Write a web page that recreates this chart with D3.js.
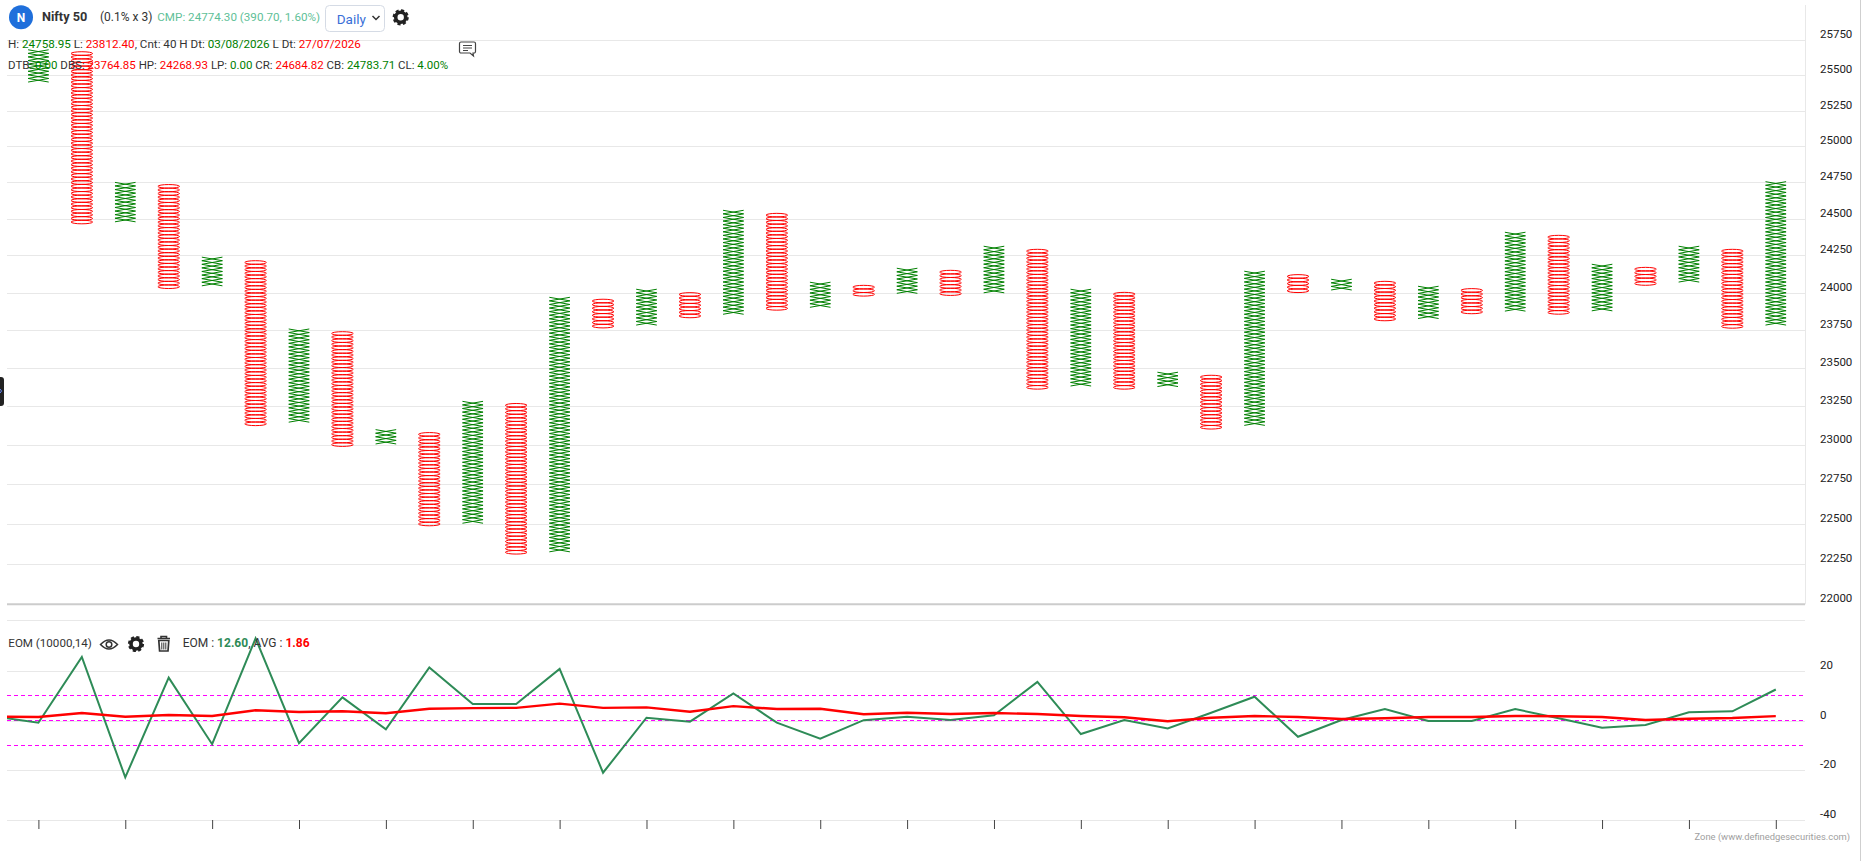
<!DOCTYPE html>
<html>
<head>
    <meta charset="utf-8">
    <title>Nifty 50 Point and Figure</title>
    <script src="https://d3js.org/d3.v7.min.js"></script>
    <style>
    html, body { margin: 0; padding: 0; background: #fff; overflow: hidden; }
    text { font-family: Roboto, "Open Sans", sans-serif; }
    </style>
</head>
<body>
<script>
// point and figure columns, one entry per column
var colTypes = ["X","O","X","O","X","O","X","O","X","O","X","O","X","O","X","O","X","O","X","O","X",
                "O","X","O","X","O","X","O","X","O","X","O","X","O","X","O","X","O","X","O","X"];
var colHigh = [25682,25668,24749,24734,24238,24214,23757,23739,23099,23080,23282,23268,23968,23955,24022,23999,24557,24536,24069,24048,24163,
               24149,24312,24291,24022,24001,23472,23452,24143,24120,24089,24075,24042,24026,24407,24386,24190,24169,24312,24291,24754];
var colLow = [25449,24460,24473,24019,24042,23124,23138,22985,23003,22483,22501,22310,22320,23763,23773,23834,23846,23876,23893,23972,23993,
              23970,23993,23356,23376,23356,23370,23097,23118,23999,24013,23806,23826,23849,23873,23849,23873,24046,24060,23760,23773];

// EOM panel, first value sits one column left of the plot and gets clipped
var eomValues = [1.7,-0.8,25.8,-22.9,17.4,-9.5,33.3,-9.1,9.4,-3.5,21.5,6.7,6.7,20.9,-21,1.2,-0.4,11,-0.8,-7.3,0.2,
                 1.6,0.3,2.2,15.7,-5.4,0.3,-3.1,3.2,9.7,-6.5,0.3,4.7,-0.1,-0.1,4.7,1,-2.8,-1.7,3.4,3.8,12.6];
var avgValues = [1.6,1.5,3.1,1.6,2.3,1.9,4.2,3.5,3.8,3,4.8,5.1,5.2,6.9,5.2,5.4,3.6,5.9,4.7,4.8,2.6,
                 3.2,2.7,3.1,2.7,1.9,1.4,-0.2,1.2,1.9,1.5,0.7,1,1.5,1.5,1.9,1.8,1.5,0.3,0.8,1.1,1.86];
var eomLevels = [10,0,-10];

var priceTicks = d3.range(22000, 25751, 250);
var eomTicks = [20,0,-20,-40];
var xTicks = d3.range(0, 41, 2);

var boxRatio = 0.999;

var width = 1861, height = 861,
    left = 7, right = 1805;

var svg = d3.select("body").append("svg")
    .attr("width", width)
    .attr("height", height);

var x = d3.scaleLinear().domain([0, 40]).range([38.4, 1775.8]);
var y = d3.scaleLog().domain([22000, 25750]).range([604.3, 40.3]);
var yEom = d3.scaleLinear().domain([-40, 40]).range([819.7, 621.7]);

svg.append("defs").append("clipPath").attr("id", "plot")
    .append("rect").attr("x", left).attr("y", 610).attr("width", right - left).attr("height", 215);

// grid and right hand labels
var priceAxis = svg.append("g")
    .attr("transform", "translate(" + right + ",0)")
    .call(d3.axisLeft(y).tickValues(priceTicks).tickSize(right - left).tickFormat(""));
priceAxis.select(".domain").remove();
priceAxis.selectAll("line").attr("stroke", "#e8e8e8").attr("shape-rendering", "crispEdges");

var eomAxis = svg.append("g")
    .attr("transform", "translate(" + right + ",0)")
    .call(d3.axisLeft(yEom).tickValues(eomTicks).tickSize(right - left).tickFormat(""));
eomAxis.select(".domain").remove();
eomAxis.selectAll("line").attr("stroke", "#e8e8e8").attr("shape-rendering", "crispEdges");

svg.append("line").attr("x1", left).attr("x2", right).attr("y1", 620.5).attr("y2", 620.5)
    .attr("stroke", "#e8e8e8");
svg.append("line").attr("x1", left).attr("x2", right).attr("y1", y(22000)).attr("y2", y(22000))
    .attr("stroke", "#ccc").attr("stroke-width", 2);
svg.append("line").attr("x1", right + 0.5).attr("x2", right + 0.5).attr("y1", 5).attr("y2", y(22000))
    .attr("stroke", "#e8e8e8");
svg.append("line").attr("x1", 1860.5).attr("x2", 1860.5).attr("y1", 0).attr("y2", height)
    .attr("stroke", "#cfcfcf");

svg.append("g").selectAll("text").data(priceTicks).enter().append("text")
    .attr("x", 1820).attr("y", function(d) { return y(d) - 2; })
    .attr("font-size", 11.5).attr("fill", "#222")
    .text(function(d) { return d; });
svg.append("g").selectAll("text").data(eomTicks).enter().append("text")
    .attr("x", 1820).attr("y", function(d) { return yEom(d) - 2; })
    .attr("font-size", 11.5).attr("fill", "#222")
    .text(function(d) { return d; });

// x ticks, no labels on this chart
var xAxis = svg.append("g")
    .attr("transform", "translate(0,820)")
    .call(d3.axisBottom(x).tickValues(xTicks).tickSize(9).tickFormat(""));
xAxis.select(".domain").remove();
xAxis.selectAll("line").attr("stroke", "#444");

// columns
var columns = svg.append("g").selectAll("g")
    .data(colTypes.map(function(t, i) {
        var n = Math.round(Math.log(colLow[i] / colHigh[i]) / Math.log(boxRatio));
        return {type: t, i: i, boxes: d3.range(n).map(function(k) {
            return [colHigh[i] * Math.pow(boxRatio, k), colHigh[i] * Math.pow(boxRatio, k + 1)];
        })};
    }))
    .enter().append("g");

columns.filter(function(d) { return d.type == "X"; })
    .selectAll("path")
    .data(function(d) { return d.boxes.map(function(b) { return {b: b, i: d.i}; }); })
    .enter().append("path")
    .attr("d", function(d) {
        var c = x(d.i), t = y(d.b[0]), b = y(d.b[1]);
        return "M" + (c - 10.3) + "," + t + "L" + (c + 10.3) + "," + b +
               "M" + (c + 10.3) + "," + t + "L" + (c - 10.3) + "," + b;
    })
    .attr("fill", "none")
    .attr("stroke", "green")
    .attr("stroke-width", 1);

columns.filter(function(d) { return d.type == "O"; })
    .selectAll("ellipse")
    .data(function(d) { return d.boxes.map(function(b) { return {b: b, i: d.i}; }); })
    .enter().append("ellipse")
    .attr("cx", function(d) { return x(d.i); })
    .attr("cy", function(d) { return (y(d.b[0]) + y(d.b[1])) / 2; })
    .attr("rx", 10.8)
    .attr("ry", function(d) { return (y(d.b[1]) - y(d.b[0])) / 2; })
    .attr("fill", "none")
    .attr("stroke", "red")
    .attr("stroke-width", 1);

// EOM panel
var plot = svg.append("g").attr("clip-path", "url(#plot)");

plot.selectAll(".level").data(eomLevels).enter().append("line")
    .attr("class", "level")
    .attr("x1", left).attr("x2", right - 2)
    .attr("y1", function(d) { return Math.floor(yEom(d)) + 0.5; })
    .attr("y2", function(d) { return Math.floor(yEom(d)) + 0.5; })
    .attr("stroke", "#f0f")
    .attr("stroke-width", 1.2)
    .attr("stroke-dasharray", "4,3");

var line = d3.line()
    .x(function(d, i) { return x(i - 1); })
    .y(function(d) { return yEom(d); });

plot.append("path").datum(eomValues)
    .attr("d", line).attr("fill", "none")
    .attr("stroke", "#2e8b57").attr("stroke-width", 2);
plot.append("path").datum(avgValues)
    .attr("d", line).attr("fill", "none")
    .attr("stroke", "red").attr("stroke-width", 2.4);

// header text
var dark = "#333", up = "green", down = "red";

function label(px, py, size, parts) {
    var t = svg.append("text").attr("x", px).attr("y", py).attr("font-size", size);
    parts.forEach(function(p) {
        t.append("tspan").attr("fill", p[1]).attr("font-weight", p[2] || 400).text(p[0]);
    });
    return t;
}

svg.append("circle").attr("cx", 21).attr("cy", 17.3).attr("r", 12).attr("fill", "#1f6fdb");
svg.append("text").attr("x", 21).attr("y", 21.5).attr("text-anchor", "middle")
    .attr("font-size", 12).attr("font-weight", 700).attr("fill", "#fff").text("N");

label(42, 21, 12.7, [["Nifty 50", dark, 700]]);
label(100, 21, 12, [["(0.1% x 3)", dark]]);
label(157.3, 21, 11.65, [["CMP: 24774.30 (390.70, 1.60%)", "#5fbf98"]]);

svg.append("rect").attr("x", 325.5).attr("y", 5.5).attr("width", 59).attr("height", 26).attr("rx", 4)
    .attr("fill", "#fff").attr("stroke", "#d5dbe5");
label(336.7, 24, 13.5, [["Daily", "#3a6fd8"]]);
svg.append("path").attr("d", "M372.5,16L376,19.5L379.5,16").attr("fill", "none")
    .attr("stroke", "#333").attr("stroke-width", 1.5);

function gear(cx, cy) {
    svg.append("circle").attr("cx", cx).attr("cy", cy).attr("r", 5).attr("fill", "none")
        .attr("stroke", "#222").attr("stroke-width", 3.6);
    svg.append("circle").attr("cx", cx).attr("cy", cy).attr("r", 6.8).attr("fill", "none")
        .attr("stroke", "#222").attr("stroke-width", 2.6).attr("stroke-dasharray", "3.1,2.25");
}
gear(400.7, 17.3);

label(8, 47.5, 11.65, [["H: ", dark], ["24758.95", up], [" L: ", dark], ["23812.40", down], [", Cnt: 40 H Dt: ", dark],
    ["03/08/2026", up], [" L Dt: ", dark], ["27/07/2026", down]]);
label(8, 69, 11.5, [["DTB: ", dark], ["0.00", up], [" DBS: ", dark], ["23764.85", down], [" HP: ", dark], ["24268.93", down],
    [" LP: ", dark], ["0.00", up], [" CR: ", dark], ["24684.82", down], [" CB: ", dark], ["24783.71", up], [" CL: ", dark], ["4.00%", up]]);

// comment icon
svg.append("path")
    .attr("d", "M461,42h13a1.5,1.5 0 0 1 1.5,1.5v8a1.5,1.5 0 0 1 -1.5,1.5h-1l0.5,3l-3.5,-3h-9a1.5,1.5 0 0 1 -1.5,-1.5v-8a1.5,1.5 0 0 1 1.5,-1.5z")
    .attr("fill", "#fff").attr("stroke", "#444").attr("stroke-width", 1.2);
svg.append("path").attr("d", "M463,45.5h9M463,48h9M463,50.5h5").attr("stroke", "#444").attr("stroke-width", 1);

// side handle
svg.append("rect").attr("x", -4).attr("y", 377).attr("width", 8).attr("height", 29).attr("rx", 3).attr("fill", "#222");
svg.append("path").attr("d", "M0,389l1.5,2l-1.5,2").attr("fill", "none").attr("stroke", "#6a8cff");

// EOM legend
label(8.3, 647, 11.6, [["EOM (10000,14)", dark]]);
svg.append("path").attr("d", "M100.5,644.5Q109,635.5 117.5,644.5Q109,653.5 100.5,644.5Z")
    .attr("fill", "none").attr("stroke", "#333").attr("stroke-width", 1.5);
svg.append("circle").attr("cx", 109).attr("cy", 644.5).attr("r", 2.8).attr("fill", "none")
    .attr("stroke", "#333").attr("stroke-width", 1.5);
gear(136, 644);
svg.append("path").attr("d", "M157.5,638.5h12.5M161,638.5v-2h5.5v2").attr("fill", "none").attr("stroke", "#333").attr("stroke-width", 1.6);
svg.append("path").attr("d", "M158.8,640.5h10l-0.8,10.5h-8.4z").attr("fill", "none").attr("stroke", "#333").attr("stroke-width", 1.7);
svg.append("path").attr("d", "M161.8,642.5v7M163.8,642.5v7M165.8,642.5v7").attr("stroke", "#333").attr("stroke-width", 1);
label(182.7, 647, 12, [["EOM : ", dark], ["12.60", "#2e8b57", 700], [", AVG : ", dark], ["1.86", "red", 700]]);

svg.append("text").attr("x", 1850).attr("y", 839.5).attr("text-anchor", "end")
    .attr("font-size", 9.4).attr("fill", "#a0a0a0").text("Zone (www.definedgesecurities.com)");
</script>
</body>
</html>
